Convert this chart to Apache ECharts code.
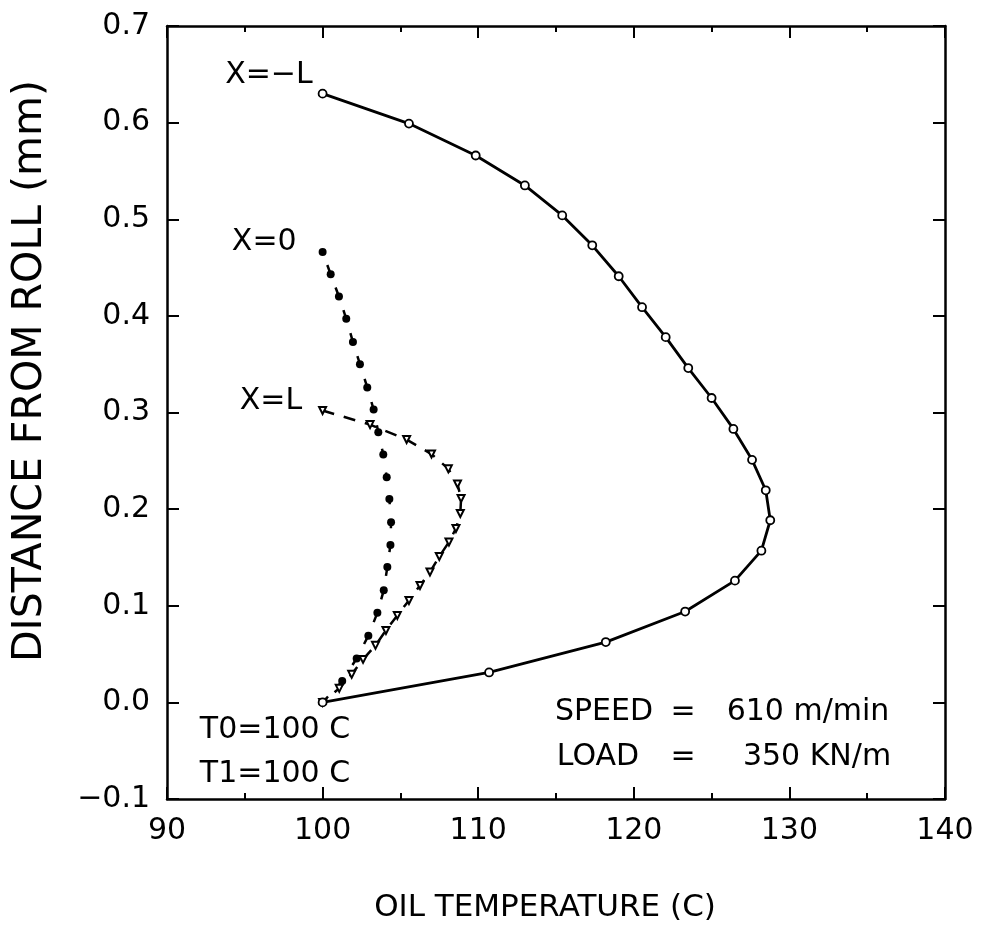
<!DOCTYPE html>
<html>
<head>
<meta charset="utf-8">
<script src="https://cdn.jsdelivr.net/npm/echarts@6/dist/echarts.min.js"></script>
<style>
  html, body { margin: 0; padding: 0; background: #fff; }
  #chart { width: 981px; height: 945px; }
</style>
</head>
<body>
<div id="chart"></div>
<script>
// Oil temperature profiles across the film at three positions in the bite
const xTicks = [90, 100, 110, 120, 130, 140];
const yTicks = [-0.1, 0.0, 0.1, 0.2, 0.3, 0.4, 0.5, 0.6, 0.7];

// Position X = -L (entry)
const tempMinusL = [100.0, 105.55, 109.84, 113.0, 115.4, 117.33, 119.03, 120.53, 122.05, 123.5, 125.0,
                    126.4, 127.6, 128.48, 128.77, 128.2, 126.5, 123.3, 118.2, 110.7, 100.0];
const distMinusL = [0.630, 0.599, 0.566, 0.535, 0.504, 0.473, 0.441, 0.409, 0.378, 0.346, 0.315,
                    0.283, 0.251, 0.2195, 0.1885, 0.157, 0.126, 0.094, 0.0624, 0.031, 0.0];

// Position X = 0 (centre)
const tempZero = [100.0, 100.52, 101.05, 101.52, 101.95, 102.4, 102.87, 103.28, 103.58, 103.9, 104.12,
                  104.29, 104.4, 104.36, 104.16, 103.93, 103.52, 102.94, 102.19, 101.26, 100.0];
const distZero = [0.466, 0.443, 0.420, 0.397, 0.373, 0.350, 0.326, 0.303, 0.2795, 0.2565, 0.233,
                  0.2106, 0.1865, 0.163, 0.140, 0.116, 0.0927, 0.069, 0.0455, 0.022, 0.0];

// Position X = L (exit)
const tempL = [100.0, 103.05, 105.4, 107.0, 108.08, 108.67, 108.9, 108.85, 108.57, 108.12, 107.5,
               106.9, 106.26, 105.55, 104.8, 104.07, 103.4, 102.6, 101.87, 101.07, 100.0];
const distL = [0.302, 0.2875, 0.272, 0.257, 0.2417, 0.226, 0.211, 0.1955, 0.180, 0.166, 0.151,
               0.135, 0.121, 0.1055, 0.090, 0.0745, 0.059, 0.0445, 0.029, 0.0145, 0.0];

const curveNames = ['X=\u2212L', 'X=0', 'X=L'];

const FONT = 'DejaVu Sans';
const INK = '#000';
const LABEL_SIZE = 30;

// Build [x, y] points; the first reading of each profile carries the curve name
function pairs(xs, ys, name, labelOpts, fromBottom) {
  const pts = xs.map((x, i) => {
    const item = { value: [x, ys[i]] };
    if (i === 0) {
      item.label = Object.assign({
        show: true, formatter: name, position: 'left',
        fontFamily: FONT, fontSize: LABEL_SIZE, color: INK
      }, labelOpts);
    }
    return item;
  });
  return fromBottom ? pts.reverse() : pts;
}

const chart = echarts.init(document.getElementById('chart'), null, { renderer: 'canvas' });

const axisLineStyle = { color: INK, width: 2.5 };
const tickStyle = { color: INK, width: 2 };

function xAxisDef(pos, showLabel) {
  return {
    type: 'value', position: pos, min: xTicks[0], max: xTicks[xTicks.length - 1], interval: 10,
    axisLine: { show: true, onZero: false, lineStyle: axisLineStyle },
    axisTick: { show: true, inside: true, length: 12, lineStyle: tickStyle },
    minorTick: { show: true, splitNumber: 2, length: 6, lineStyle: tickStyle },
    splitLine: { show: false }, minorSplitLine: { show: false },
    axisLabel: { show: showLabel, margin: 17, fontFamily: FONT, fontSize: LABEL_SIZE, color: INK, hideOverlap: false }
  };
}
function yAxisDef(pos, showLabel) {
  return {
    type: 'value', position: pos, min: yTicks[0], max: yTicks[yTicks.length - 1], interval: 0.1,
    axisLine: { show: true, onZero: false, lineStyle: axisLineStyle },
    axisTick: { show: true, inside: true, length: 12, lineStyle: tickStyle },
    splitLine: { show: false },
    axisLabel: {
      show: showLabel, margin: 17, fontFamily: FONT, fontSize: LABEL_SIZE, color: INK, hideOverlap: false,
      formatter: v => v.toFixed(1).replace('-', '\u2212')
    }
  };
}

function note(text, x, y, align, size) {
  return {
    type: 'text', x: x, y: y, z: 10,
    style: { text: text, font: (size || LABEL_SIZE) + 'px "DejaVu Sans"', fill: INK, align: align, verticalAlign: 'middle' }
  };
}

chart.setOption({
  animation: false,
  backgroundColor: '#fff',
  grid: { left: 167, right: 36, top: 26, bottom: 146, containLabel: false },
  xAxis: [xAxisDef('bottom', true), xAxisDef('top', false)],
  yAxis: [yAxisDef('left', true), yAxisDef('right', false)],
  series: [
    {
      type: 'line', name: curveNames[0], xAxisIndex: 0, yAxisIndex: 0,
      data: pairs(tempMinusL, distMinusL, curveNames[0], { distance: 5, offset: [0, -18] }),
      symbol: 'circle', symbolSize: 8, showAllSymbol: true,
      itemStyle: { color: '#fff', borderColor: INK, borderWidth: 1.8 },
      lineStyle: { color: INK, width: 2.8, type: 'solid' },
      z: 3
    },
    {
      type: 'line', name: curveNames[1], xAxisIndex: 0, yAxisIndex: 0,
      data: pairs(tempZero, distZero, curveNames[1], { distance: 22, offset: [0, -10] }, true),
      symbol: 'circle', symbolSize: 8, showAllSymbol: true,
      itemStyle: { color: INK, borderColor: INK, borderWidth: 0 },
      lineStyle: { color: INK, width: 2.5, type: [8, 16] },
      z: 2
    },
    {
      type: 'line', name: curveNames[2], xAxisIndex: 0, yAxisIndex: 0,
      data: pairs(tempL, distL, curveNames[2], { distance: 16, offset: [0, -9] }),
      symbol: 'triangle', symbolRotate: 180, symbolSize: 7, showAllSymbol: true,
      itemStyle: { color: '#fff', borderColor: INK, borderWidth: 2 },
      lineStyle: { color: INK, width: 2.5, type: [12, 10] },
      z: 2
    }
  ],
  graphic: [
    {
      type: 'text', x: 30, y: 371, rotation: Math.PI / 2, z: 10,
      style: { text: 'DISTANCE FROM ROLL (mm)', font: '41px "DejaVu Sans"', fill: INK, align: 'center', verticalAlign: 'middle' }
    },
    note('OIL TEMPERATURE (C)', 545, 908, 'center', 31),
    note('T0=100 C', 275, 730, 'center'),
    note('T1=100 C', 275, 774, 'center'),
    note('SPEED', 604, 712, 'center'),
    note('=', 683, 712, 'center'),
    note('610 m/min', 808, 712, 'center'),
    note('LOAD', 598, 757, 'center'),
    note('=', 683, 757, 'center'),
    note('350 KN/m', 817, 757, 'center')
  ]
});
</script>
</body>
</html>
